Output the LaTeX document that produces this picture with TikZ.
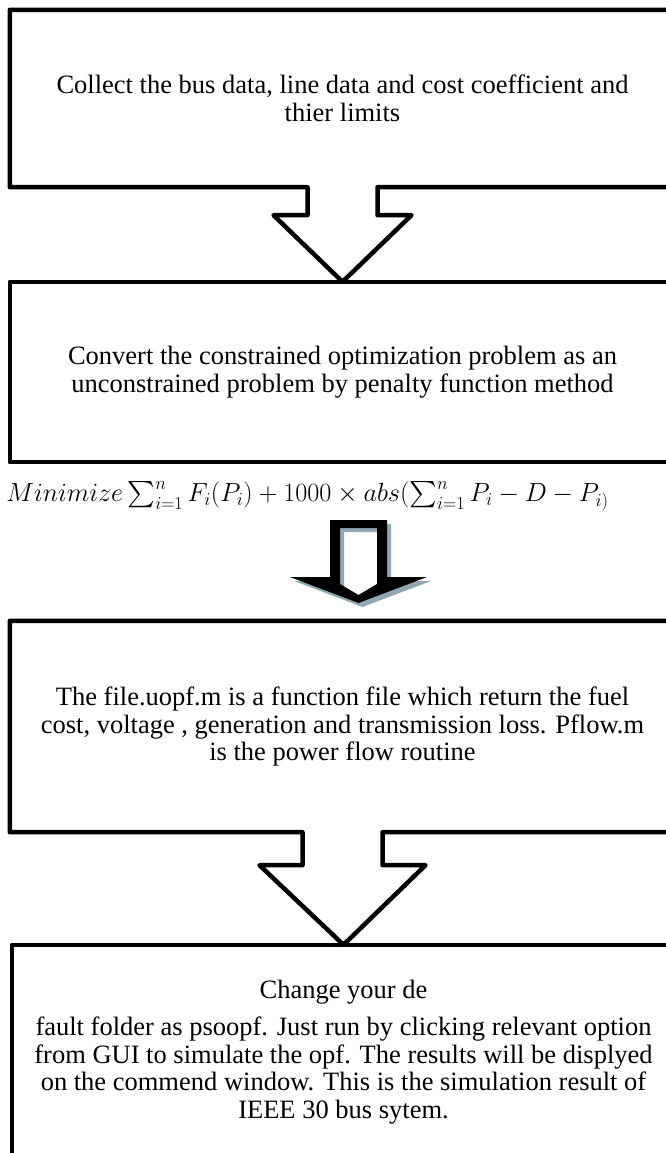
\documentclass[tikz,border=0pt]{standalone}
\usepackage{amsmath}
\usepackage{fontspec}
\setmainfont{Liberation Serif}
\usepackage{tikz}
\usetikzlibrary{calc}
\definecolor{shadowc}{HTML}{8FA9B4}
\tikzset{
  frame/.style={draw=black,line width=4.5pt,line join=round},
  box/.style={inner sep=0pt,align=center,font=\fontsize{26.5}{27.5}\selectfont},
  ring/.style={even odd rule}
}

\begin{document}
\begin{tikzpicture}[x=1pt,y=-1pt]
\useasboundingbox (0,0) rectangle (666,1153);
\clip (0,0) rectangle (666,1153);
% text boxes
\node[box,minimum width=665pt,minimum height=177pt] (b1) at (342.5,98.5)
  {Collect the bus data, line data and cost coefficient and\\thier limits};
\node[box,minimum width=665pt,minimum height=180pt] (b2) at (342.5,372)
  {Convert the constrained optimization problem as an\\unconstrained problem by penalty function method};
\node[font=\fontsize{24}{28}\selectfont,inner sep=0pt,scale=1.055] (eq) at (307.5,496)
  {$Minimize\sum\nolimits_{i=1}^{n}F_i(P_i)+1000\times abs(\sum\nolimits_{i=1}^{n}P_i-D-P_{i)}$};
\node[box,minimum width=665pt,minimum height=211pt] (b3) at (342.5,726.5)
  {The file.uopf.m is a function file which return the fuel\\cost, voltage , generation and transmission loss. Pflow.m\\is the power flow routine};
\node[box,minimum width=663pt,minimum height=214pt] (b4) at (343.5,1052)
  {Change your de\\[10pt]fault folder as psoopf. Just run by clicking relevant option\\from GUI to simulate the opf. The results will be displyed\\on the commend window. This is the simulation result of\\IEEE 30 bus sytem.};
% outlines with arrow callouts
\draw[frame] (b1.south east) -- ($(b1.south)+(35,0)$) -- ++(0,28) -- ($(b1.south)+(69,28)$)
  -- (b2.north) -- ($(b1.south)+(-69,28)$) -- ($(b1.south)+(-35,28)$) -- ($(b1.south)+(-35,0)$)
  -- (b1.south west) -- (b1.north west) -- (b1.north east);
\draw[frame] (b2.north west) rectangle (b2.south east);
\draw[frame] (b3.south east) -- ($(b3.south)+(40,0)$) -- ++(0,33) -- ($(b3.south)+(83,33)$)
  -- (b4.north) -- ($(b3.south)+(-83,33)$) -- ($(b3.south)+(-40,33)$) -- ($(b3.south)+(-40,0)$)
  -- (b3.south west) -- (b3.north west) -- (b3.north east);
\draw[frame] (b4.north west) rectangle (b4.south east);
% block arrow with shadow
\coordinate (ba) at (358.5,520);
\foreach \col/\off in {shadowc/4,black/0}{
  \fill[\col,ring,shift={(ba)},shift={(\off,\off)}]
    (-28.5,0) -- (28.5,0) -- (28.5,57) -- (68.5,57) -- (0,83) -- (-68.5,57) -- (-28.5,57) -- cycle
    (-18.5,8) -- (18.5,8) -- (18.5,64) -- (0,75) -- (-18.5,64) -- cycle;
}
\end{tikzpicture}
\end{document}
